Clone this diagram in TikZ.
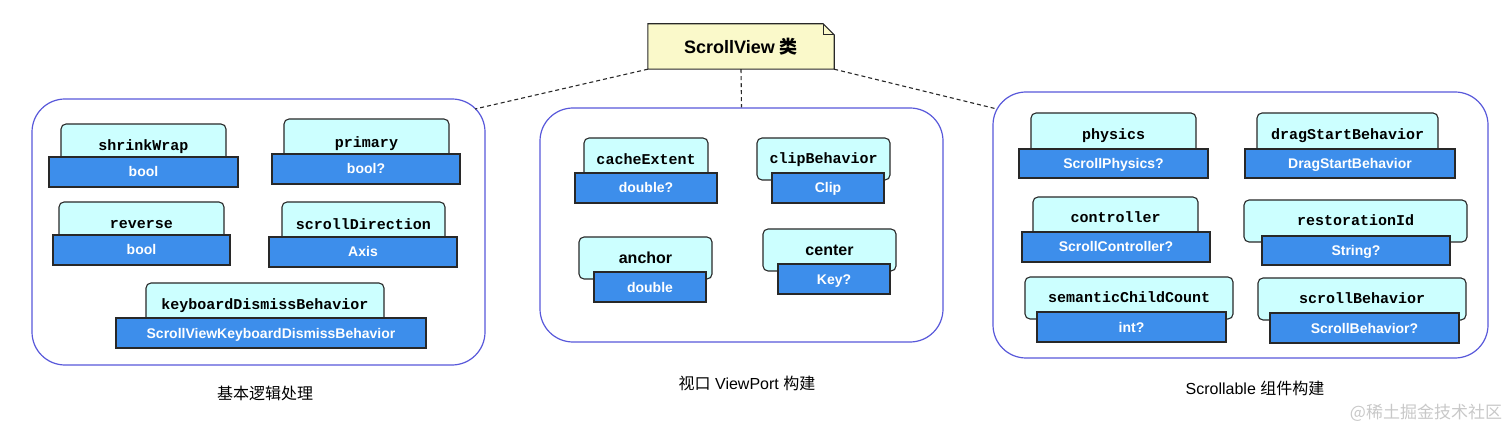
\documentclass[tikz,border=0pt]{standalone}
\usepackage{fontspec}
\setmainfont{Liberation Sans}
\newfontfamily\cjk{Noto Sans CJK SC}
\newfontfamily\codefont{Liberation Mono}
\usetikzlibrary{backgrounds}
\definecolor{tabcyan}{RGB}{204,255,255}
\definecolor{typeblue}{RGB}{61,142,235}
\definecolor{groupblue}{RGB}{88,88,218}
\definecolor{noteyellow}{RGB}{250,249,202}
\definecolor{edge}{RGB}{40,40,40}
\definecolor{mark}{RGB}{200,200,200}

\tikzset{
  group/.style={draw=groupblue, line width=1.2pt, rounded corners=33pt, inner sep=0pt},
  tab/.style={draw=edge, fill=tabcyan, line width=1.1pt, rounded corners=5pt, inner sep=0pt,
    font=\codefont\bfseries\fontsize{15}{15}\selectfont, text height=9pt, text depth=0pt},
  tabsans/.style={tab, font=\bfseries\fontsize{16}{16}\selectfont, text height=11pt},
  type/.style={draw=edge, fill=typeblue, line width=1.1pt, inner sep=0pt, text=white,
    font=\bfseries\fontsize{14}{14}\selectfont, text height=10pt, text depth=0pt},
  note/.style={draw=edge, fill=noteyellow, line width=1.1pt},
  caption/.style={font=\fontsize{16}{16}\selectfont},
  link/.style={dash pattern=on 4pt off 3pt, line width=1.1pt, draw=edge}
}

\begin{document}
\begin{tikzpicture}[x=1pt, y=-1pt]
  \useasboundingbox (0,0) rectangle (1512,430);

  % ScrollView class note
  \node [font=\bfseries\fontsize{18}{18}\selectfont, minimum width=186pt, minimum height=45pt, inner sep=0pt] (sv) at (741,46.5) {ScrollView {\cjk 类}};
  \begin{scope}[on background layer]
    \draw [note] (sv.south west) -- (sv.north west) -- ([xshift=-11pt]sv.north east)
      -- ([yshift=-11pt]sv.north east) -- (sv.south east) -- cycle;
  \end{scope}
  \draw [line width=1.1pt, draw=edge] ([xshift=-11pt]sv.north east) -- ++(0,11) -- ++(11,0);

  % Groups
  \node [group, minimum width=453pt, minimum height=266pt] (base) at (258.5,232) {};
  \node [group, minimum width=403pt, minimum height=234pt] (view) at (741.5,225) {};
  \node [group, minimum width=495pt, minimum height=266pt] (scroll) at (1240.5,225) {};

  \coordinate (base-in) at (475,109);
  \coordinate (scroll-in) at (997,109);
  \draw [link] (sv.south west) -- (base-in);
  \draw [link] (sv.south) -- (view.north);
  \draw [link] (sv.south east) -- (scroll-in);

  % Basic logic
  \node [tab, minimum width=165pt, minimum height=45pt] (shrinkwrap) at (143.5,146.5) {shrinkWrap};
  \node [type, minimum width=189pt, minimum height=30pt] (shrinkwrap-t) at (143.5,172) {bool};
  \node [tab, minimum width=165pt, minimum height=49pt] (primary) at (366.5,143.5) {primary};
  \node [type, minimum width=188pt, minimum height=30pt] (primary-t) at (366,169) {bool?};
  \node [tab, minimum width=165pt, minimum height=45pt] (reverse) at (141.5,224.5) {reverse};
  \node [type, minimum width=177pt, minimum height=30pt] (reverse-t) at (141.5,250) {bool};
  \node [tab, minimum width=163pt, minimum height=47pt] (direction) at (363.5,225.5) {scrollDirection};
  \node [type, minimum width=188pt, minimum height=30pt] (direction-t) at (363,252) {Axis};
  \node [tab, minimum width=238pt, minimum height=43pt] (dismiss) at (265,304.5) {keyboardDismissBehavior};
  \node [type, minimum width=310pt, minimum height=30pt] (dismiss-t) at (271,333) {ScrollViewKeyboardDismissBehavior};
  \node [caption] (base-cap) at (265,393) {\cjk 基本逻辑处理};

  % ViewPort
  \node [tab, minimum width=124pt, minimum height=45pt] (cache) at (646,160.5) {cacheExtent};
  \node [type, minimum width=142pt, minimum height=30pt] (cache-t) at (646,188) {double?};
  \node [tab, minimum width=133pt, minimum height=42pt] (clip) at (823.5,159) {clipBehavior};
  \node [type, minimum width=112pt, minimum height=30pt] (clip-t) at (828,188) {Clip};
  \node [tabsans, minimum width=133pt, minimum height=42pt] (anchor) at (645.5,258) {anchor};
  \node [type, minimum width=112pt, minimum height=30pt] (anchor-t) at (650,287) {double};
  \node [tabsans, minimum width=133pt, minimum height=42pt] (center) at (829.5,250) {center};
  \node [type, minimum width=112pt, minimum height=30pt] (center-t) at (834,279) {Key?};
  \node [caption] (view-cap) at (747,383) {{\cjk 视口} ViewPort {\cjk 构建}};

  % Scrollable
  \node [tab, minimum width=165pt, minimum height=45pt] (physics) at (1113.5,135.5) {physics};
  \node [type, minimum width=189pt, minimum height=29pt] (physics-t) at (1113.5,163.5) {ScrollPhysics?};
  \node [tab, minimum width=181pt, minimum height=45pt] (drag) at (1347.5,135.5) {dragStartBehavior};
  \node [type, minimum width=210pt, minimum height=29pt] (drag-t) at (1350,163.5) {DragStartBehavior};
  \node [tab, minimum width=165pt, minimum height=43pt] (controller) at (1115.5,218.5) {controller};
  \node [type, minimum width=188pt, minimum height=30pt] (controller-t) at (1116,247) {ScrollController?};
  \node [tab, minimum width=223pt, minimum height=42pt] (restoration) at (1355.5,221) {restorationId};
  \node [type, minimum width=188pt, minimum height=29pt] (restoration-t) at (1356,250.5) {String?};
  \node [tab, minimum width=208pt, minimum height=42pt] (semantic) at (1129,298) {semanticChildCount};
  \node [type, minimum width=189pt, minimum height=30pt] (semantic-t) at (1131.5,327) {int?};
  \node [tab, minimum width=208pt, minimum height=42pt] (behavior) at (1362,299) {scrollBehavior};
  \node [type, minimum width=189pt, minimum height=30pt] (behavior-t) at (1364.5,328) {ScrollBehavior?};
  \node [caption] (scroll-cap) at (1255,388) {Scrollable {\cjk 组件构建}};

  \node [font=\cjk\fontsize{17}{17}\selectfont, text=mark] (wm) at (1426,413) {@稀土掘金技术社区};
\end{tikzpicture}
\end{document}
